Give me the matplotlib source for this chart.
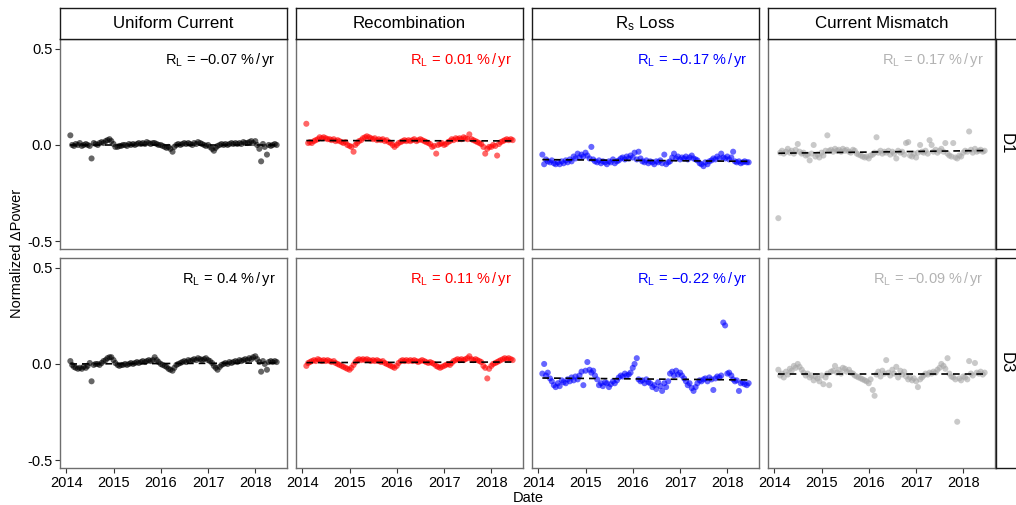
import matplotlib.pyplot as plt
import matplotlib.dates as mdates
import pandas as pd

plt.rcParams['font.family'] = ['Liberation Sans', 'DejaVu Sans']
plt.rcParams['mathtext.fontset'] = 'custom'
plt.rcParams['mathtext.rm'] = 'Liberation Sans'
plt.rcParams['mathtext.it'] = 'Liberation Sans:italic'

# one value every half month, Feb 2014 -> Jun 2018
dates = pd.date_range('2014-02-01', periods=106, freq='SMS')

# D1 row
uc_d1 = [0.05, 0.0, -0.005, 0.005, 0.0, 0.01, -0.005, 0.0, 0.005, 0.0, -0.005,
         -0.07,
         0.01, 0.005, 0.0, 0.01, 0.015, 0.01,
         0.02, 0.025, 0.03, 0.02,
         0.005, -0.01, -0.01, -0.005,
         -0.005, 0.0, 0.0, -0.005, 0.005, 0.0, 0.005, 0.0, 0.005, 0.01,
         0.005, 0.01, 0.005, 0.015, 0.01, 0.005, 0.01, 0.01, 0.005, 0.0,
         0.0, -0.005, -0.01, -0.015, -0.01, -0.02, -0.035, -0.01,
         0.0, 0.005, 0.0, 0.005, 0.01, 0.005, 0.01, 0.005, 0.0, 0.01, 0.005,
         0.015, 0.01, 0.005, 0.0, -0.005,
         0.0, -0.01, -0.02, -0.03, -0.015, -0.005, 0.0,
         0.005, 0.0, 0.005, 0.0, 0.005, 0.01, 0.005, 0.01, 0.005, 0.01, 0.005,
         0.015, 0.01, 0.01, 0.015, 0.02, 0.01,
         0.02, 0.0, -0.02, -0.085, 0.005, -0.01, -0.05, 0.0, -0.005, 0.0, 0.005, 0.0]

rec_d1 = [0.11,
          0.01, 0.015, 0.01, 0.02, 0.025, 0.03,
          0.04, 0.035, 0.04, 0.035, 0.03,
          0.03, 0.025, 0.03, 0.02, 0.025, 0.02, 0.015, 0.01, 0.015,
          0.0, -0.005, -0.01, -0.035, 0.0,
          0.01, 0.02, 0.025, 0.035, 0.04, 0.045, 0.04,
          0.035, 0.03, 0.035, 0.025, 0.03, 0.025, 0.03, 0.02, 0.025, 0.015, 0.01,
          0.0, -0.01, 0.0, 0.01,
          0.015, 0.02, 0.025, 0.02, 0.025, 0.02, 0.025, 0.03, 0.02, 0.025, 0.03,
          0.025, 0.02, 0.015, 0.01, 0.005,
          -0.01, -0.005, -0.045, 0.0,
          0.005, 0.01, 0.0, 0.005, 0.015, 0.02,
          0.03, 0.025, 0.035, 0.03, 0.035, 0.03, 0.04, 0.035, 0.03, 0.055, 0.03, 0.025,
          0.02, 0.015, 0.01, 0.005, -0.01, -0.045, -0.02, -0.01,
          -0.01, 0.0, -0.005, -0.055, 0.005, 0.015,
          0.02, 0.025, 0.03, 0.025, 0.03, 0.025]

rs_d1 = [-0.05, -0.1, -0.075, -0.085, -0.09, -0.08, -0.095, -0.1,
         -0.09, -0.1, -0.085, -0.095, -0.08, -0.09, -0.075, -0.085,
         -0.06, -0.07, -0.045, -0.065, -0.05, -0.06, -0.04, -0.055, -0.07,
         -0.01,
         -0.075, -0.085, -0.09, -0.08, -0.095, -0.085, -0.09, -0.1, -0.085, -0.09,
         -0.075, -0.095, -0.085, -0.08,
         -0.07, -0.065, -0.075, -0.06, -0.07, -0.055, -0.065, -0.04, -0.075, -0.035, -0.07,
         -0.085, -0.09, -0.08, -0.095, -0.085, -0.09, -0.1, -0.085, -0.09, -0.08,
         -0.095, -0.05, -0.1, -0.09, -0.085,
         -0.065, -0.045, -0.07, -0.06, -0.075, -0.065, -0.07, -0.06, -0.075, -0.065,
         -0.055, -0.07, -0.075, -0.08,
         -0.095, -0.1, -0.11, -0.09, -0.1, -0.085, -0.08,
         -0.07, -0.075, -0.06, -0.07, -0.045, -0.065, -0.07, -0.06, -0.075, -0.065, -0.035,
         -0.085, -0.09, -0.085, -0.095, -0.09, -0.085, -0.09, -0.09]

cm_d1 = [-0.38,
         -0.04, -0.03, -0.045, -0.035, -0.02, -0.04, -0.03, -0.045, -0.025, 0.005,
         -0.035, -0.045, -0.04, -0.055, -0.05, -0.08, -0.045, 0.0, -0.06, -0.05,
         -0.065, -0.04, -0.055, -0.03,
         0.05,
         -0.03, -0.025, -0.035, -0.02, -0.03, -0.025, -0.035, -0.02, -0.03, -0.025,
         -0.035, -0.04, -0.025, -0.03, -0.045,
         -0.05, -0.055, -0.06, -0.065, -0.06, -0.07, -0.055, -0.05, -0.04,
         0.04,
         -0.04, -0.03, -0.045, -0.035, -0.04, -0.03, -0.05, -0.035, -0.045, -0.07,
         -0.03, -0.04, -0.035, -0.05,
         0.01, 0.015,
         -0.055, -0.06, -0.045, -0.065, -0.04, 0.0,
         -0.035, -0.04, -0.03, -0.045, 0.025, 0.0, -0.035, -0.025, -0.04, -0.03,
         -0.02, -0.035, 0.01,
         -0.045, -0.055, -0.06, 0.01, -0.065, -0.07, -0.055, -0.06, -0.04,
         -0.03, -0.035, 0.07, -0.025, -0.04, -0.02, -0.035, -0.03, -0.025, -0.035, -0.03]

# D3 row
uc_d3 = [0.015, -0.005, -0.015, -0.02, -0.025, -0.02, -0.025, -0.015, -0.02,
         -0.01, 0.005,
         -0.09,
         -0.005, 0.0, 0.0, -0.005, 0.005,
         0.015, 0.02, 0.03, 0.035, 0.035,
         0.02, 0.005, -0.005, -0.01, -0.005,
         -0.005, 0.0, -0.005, 0.0, 0.005, 0.0, 0.005, 0.01, 0.005, 0.01, 0.015,
         0.01, 0.015, 0.02, 0.015, 0.02,
         0.035, 0.02, 0.01,
         0.0, -0.005, -0.01, -0.015, -0.025, -0.03, -0.035, -0.02,
         -0.005, 0.0, 0.005, 0.01, 0.015, 0.01, 0.02, 0.015, 0.02,
         0.025, 0.02, 0.03, 0.025, 0.02, 0.025, 0.03, 0.02, 0.015, 0.005,
         -0.01, -0.02, -0.03, -0.015, -0.005,
         0.0, 0.005, 0.0, 0.01, 0.005, 0.01, 0.015, 0.01, 0.02, 0.015, 0.02,
         0.025, 0.02, 0.03, 0.025, 0.035,
         0.04, 0.025, 0.01, -0.04, 0.015, 0.0, -0.03, 0.01, 0.015, 0.01, 0.015, 0.01]

rec_d3 = [-0.01, 0.005, 0.01, 0.015, 0.02, 0.015,
          0.025, 0.02, 0.015, 0.02, 0.015, 0.02, 0.015, 0.01, 0.015, 0.005,
          0.0, -0.005, -0.01, -0.015, -0.02, -0.025, -0.03, -0.02,
          -0.005, 0.01, 0.02, 0.025, 0.02,
          0.025, 0.02, 0.025, 0.02, 0.015, 0.02, 0.015, 0.02, 0.015, 0.01, 0.015, 0.005,
          0.0, -0.005, -0.01, -0.015, -0.02, -0.01,
          0.005, 0.015, 0.02, 0.015, 0.02, 0.015, 0.02, 0.015, 0.02, 0.015, 0.01,
          0.015, 0.02, 0.015,
          0.01, 0.005, 0.01, 0.005, 0.0,
          -0.01, -0.015, -0.02, -0.015, -0.01, -0.005, 0.0, -0.005,
          0.005, 0.015, 0.02, 0.025, 0.02, 0.025, 0.02, 0.025, 0.03, 0.04, 0.025,
          0.02, 0.025, 0.02, 0.015, 0.01,
          -0.01, -0.02, -0.075, -0.025, -0.01, 0.0,
          0.005, 0.01, 0.015, 0.02, 0.025, 0.03, 0.025, 0.03, 0.025, 0.02]

rs_d3 = [-0.05, 0.0, -0.06, -0.045,
         -0.075, -0.09, -0.11, -0.12, -0.1, -0.115, -0.085, -0.095, -0.1,
         -0.08, -0.09, -0.07, -0.085, -0.065, -0.08, -0.06,
         -0.04, -0.11, -0.035,
         0.01,
         -0.03, -0.045, -0.035, -0.06, -0.08,
         -0.11, -0.1, -0.115, -0.095, -0.1, -0.12, -0.105, -0.09, -0.1, -0.085,
         -0.07, -0.06, -0.065, -0.05, -0.06, -0.055, -0.045, -0.02,
         0.0, 0.03,
         -0.08, -0.09, -0.085, -0.1, -0.08, -0.095,
         -0.1, -0.12, -0.11, -0.13, -0.095, -0.115, -0.14, -0.1, -0.12, -0.09,
         -0.05, -0.04, -0.06, -0.035, -0.055, -0.045, -0.06,
         -0.075, -0.09, -0.11, -0.1, -0.125, -0.14, -0.12, -0.1, -0.085, -0.09,
         -0.08, -0.075, -0.09, -0.07, -0.08, -0.135, -0.075, -0.065, -0.07, -0.06,
         0.215, 0.2,
         -0.05, -0.045, -0.06, -0.08, -0.09, -0.085,
         -0.14, -0.1, -0.095, -0.105, -0.11, -0.1]

cm_d3 = [-0.03, -0.06, -0.05, -0.07, -0.04, -0.055,
         -0.025, -0.035, -0.01, -0.02, 0.0, -0.015, -0.03,
         -0.045, -0.06, -0.05, -0.07, -0.06, -0.085, -0.065, -0.075, -0.09, -0.06,
         -0.105, -0.07,
         -0.05, -0.11,
         -0.04, -0.035, -0.01, -0.045, -0.03, -0.05, -0.02, -0.025, -0.04, -0.03, -0.045,
         -0.05, -0.06, -0.065, -0.07, -0.075, -0.08, -0.085, -0.09, -0.1, -0.08,
         -0.135, -0.165,
         -0.055, -0.04, -0.065, -0.035, -0.05, 0.02, -0.045, -0.06, -0.03, -0.05,
         -0.015, -0.07, -0.035, -0.055, -0.04,
         -0.065, -0.08, -0.07, -0.085, -0.075, -0.09, -0.12, -0.08, -0.07,
         -0.06, -0.05, -0.055, -0.045, -0.05, -0.04, -0.045,
         -0.03, -0.02, 0.0, -0.01, -0.025,
         0.03,
         -0.05, -0.065, -0.07, -0.08,
         -0.3,
         -0.075, -0.085, -0.065, -0.07, -0.08,
         0.015,
         -0.05, -0.06, 0.005, -0.045, -0.05, -0.04, -0.055, -0.045]

columns = ['Uniform Current', 'Recombination', r'$\mathregular{R_s}$ Loss', 'Current Mismatch']
rows = ['D1', 'D3']
colors = ['black', 'red', 'blue', '#A6A6A6']
text_colors = ['black', 'red', 'blue', '#B3B3B3']
series = [[uc_d1, rec_d1, rs_d1, cm_d1],
          [uc_d3, rec_d3, rs_d3, cm_d3]]
rates = [['-0.07', '0.01', '-0.17', '0.17'],
         ['0.4', '0.11', '-0.22', '-0.09']]
# dashed trend line: value at first and last date
trend_start = [[0.0, 0.023, -0.076, -0.043],
               [0.0, 0.007, -0.073, -0.052]]
trend_end = [[0.0, 0.021, -0.085, -0.029],
             [0.005, 0.01, -0.083, -0.052]]

W, H = 1016, 505
fig = plt.figure(figsize=(W / 100, H / 100), dpi=100)

col_left = [60, 296, 532, 768]
panel_w = 227
row_top = [39, 258]
panel_h = 210
xmin, xmax = pd.Timestamp('2013-11-13'), pd.Timestamp('2018-09-03')

for r in range(2):
    for c in range(4):
        ax = fig.add_axes([col_left[c] / W, 1 - (row_top[r] + panel_h) / H,
                           panel_w / W, panel_h / H])
        vals = series[r][c]
        ax.scatter(dates[:len(vals)], vals, s=19, color=colors[c], alpha=0.6,
                   edgecolors='none', zorder=2)
        ax.plot([dates[0], dates[-1]], [trend_start[r][c], trend_end[r][c]],
                color='black', lw=1.2, dashes=(4, 3), zorder=3)
        label = r'$\mathregular{R_L\,=\,{' + rates[r][c] + r'}\ \%\,/\,yr}$'
        ax.text(0.95, 0.9, label, transform=ax.transAxes, ha='right', va='center',
                fontsize=10.5, color=text_colors[c])
        ax.set_xlim(xmin, xmax)
        ax.set_ylim(-0.54, 0.55)
        ax.set_yticks([-0.5, 0.0, 0.5])
        ax.set_yticklabels(['-0.5', '0.0', '0.5'])
        ax.xaxis.set_major_locator(mdates.YearLocator())
        ax.xaxis.set_major_formatter(mdates.DateFormatter('%Y'))
        ax.tick_params(length=3.5, width=0.8, color='#333333', labelsize=10.5,
                       labelcolor='black', pad=2)
        if c > 0:
            ax.tick_params(axis='y', left=False, labelleft=False)
        if r == 0:
            ax.tick_params(axis='x', bottom=False, labelbottom=False)
        for sp in ax.spines.values():
            sp.set_color('#6e6e6e')
            sp.set_linewidth(1.0)

        # column strip on top
        if r == 0:
            sax = fig.add_axes([col_left[c] / W, 1 - row_top[0] / H,
                                panel_w / W, 31 / H])
            sax.set_xticks([])
            sax.set_yticks([])
            for sp in sax.spines.values():
                sp.set_color('#1a1a1a')
                sp.set_linewidth(1.0)
            sax.text(0.5, 0.5, columns[c], ha='center', va='center', fontsize=12.2)

    # row strip on the right (partly outside the picture)
    rax = fig.add_axes([996 / W, 1 - (row_top[r] + panel_h) / H, 31 / W, panel_h / H])
    rax.set_xticks([])
    rax.set_yticks([])
    for sp in rax.spines.values():
        sp.set_color('#1a1a1a')
        sp.set_linewidth(1.0)
    rax.text(0.33, 0.5, rows[r], rotation=-90, ha='center', va='center', fontsize=12.2,
             transform=rax.transAxes)

fig.text(528 / W, 1 - 498 / H, 'Date', ha='center', va='center', fontsize=10.5)
fig.text(17 / W, 1 - 253 / H, 'Normalized \u0394Power', rotation=90,
         ha='center', va='center', fontsize=10.5)

plt.savefig('out.png', dpi=100)
